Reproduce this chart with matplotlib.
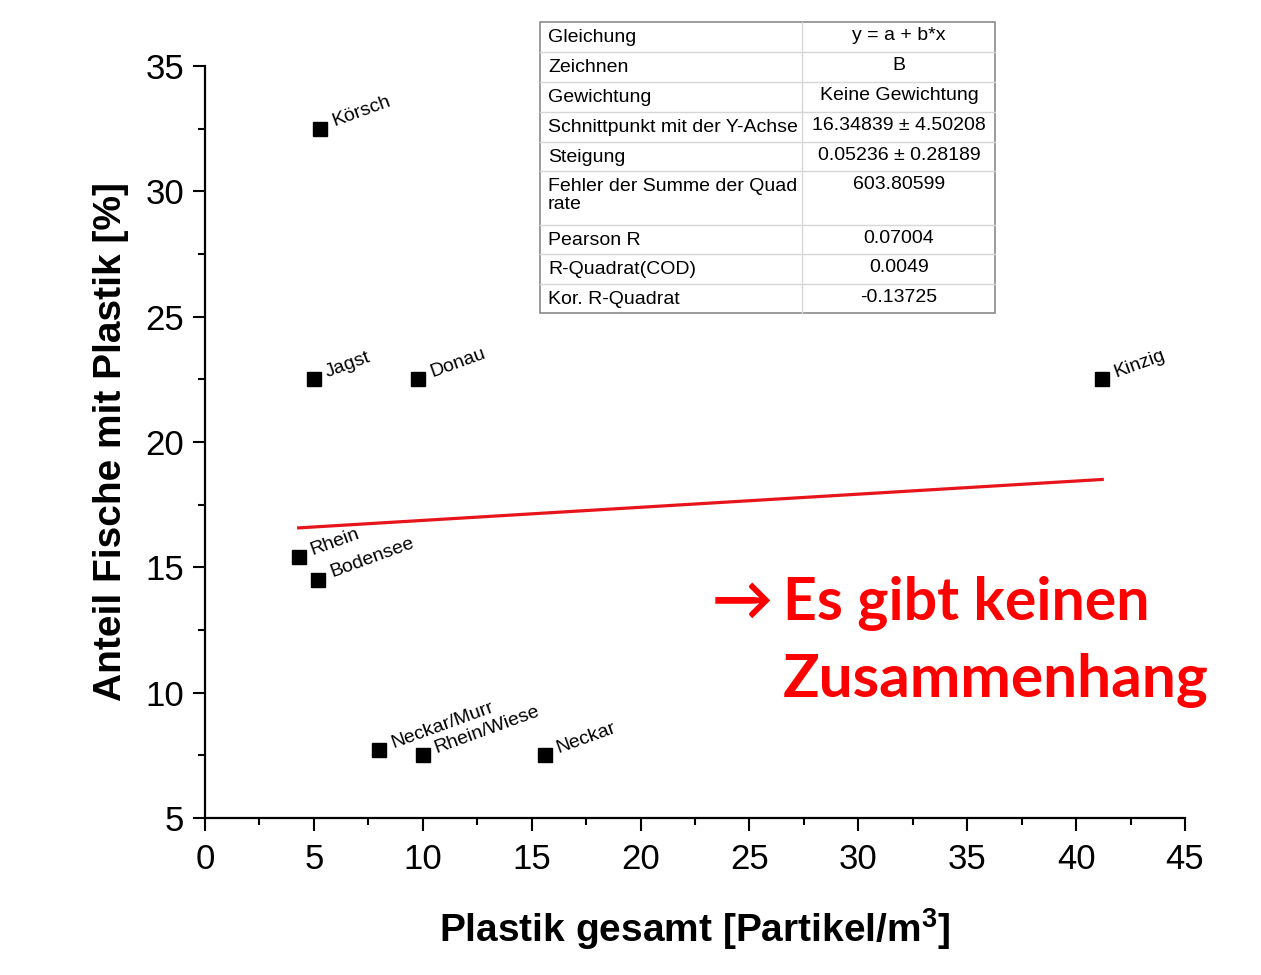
import numpy as np
import matplotlib.pyplot as plt
from matplotlib import font_manager
from matplotlib.ticker import MultipleLocator

# Fluesse: Plastik gesamt vs. Anteil Fische mit Plastik
orte = ["Körsch", "Jagst", "Donau", "Kinzig", "Rhein", "Bodensee",
        "Neckar/Murr", "Rhein/Wiese", "Neckar"]
plastik = [5.3, 5.0, 9.8, 41.2, 4.3, 5.2, 8.0, 10.0, 15.6]
anteil = [32.5, 22.5, 22.5, 22.5, 15.4, 14.5, 7.7, 7.5, 7.5]

# lineare Regression (Ergebnis aus der Tabelle)
a_fit = 16.34839
b_fit = 0.05236

tab_links = ["Gleichung", "Zeichnen", "Gewichtung", "Schnittpunkt mit der Y-Achse",
             "Steigung", "Fehler der Summe der Quad\nrate", "Pearson R",
             "R-Quadrat(COD)", "Kor. R-Quadrat"]
tab_rechts = ["y = a + b*x", "B", "Keine Gewichtung", "16.34839 ± 4.50208",
              "0.05236 ± 0.28189", "603.80599", "0.07004", "0.0049", "-0.13725"]

namen = {f.name for f in font_manager.fontManager.ttflist}
schmal = "Liberation Sans Narrow" if "Liberation Sans Narrow" in namen else "Liberation Sans"

plt.rcParams['font.family'] = ['Liberation Sans', 'DejaVu Sans']

W, H = 1261, 975
fig = plt.figure(figsize=(W / 100, H / 100), dpi=100)
ax = fig.add_axes([205 / W, 1 - 818 / H, 980 / W, 752 / H])

ax.plot(plastik, anteil, 's', color='black', ms=10, zorder=3)
xs = np.array([min(plastik), max(plastik)])
ax.plot(xs, a_fit + b_fit * xs, color='#e8141b', lw=2.3, zorder=2)

for name, x, y in zip(orte, plastik, anteil):
    ax.annotate(name, (x, y), xytext=(11, -1), textcoords='offset points',
                fontsize=14, rotation=20, rotation_mode='anchor',
                ha='left', va='bottom')

ax.set_xlim(0, 45)
ax.set_ylim(5, 35)
ax.xaxis.set_major_locator(MultipleLocator(5))
ax.xaxis.set_minor_locator(MultipleLocator(2.5))
ax.yaxis.set_major_locator(MultipleLocator(5))
ax.yaxis.set_minor_locator(MultipleLocator(2.5))
for s in ['top', 'right']:
    ax.spines[s].set_visible(False)
for s in ['left', 'bottom']:
    ax.spines[s].set_linewidth(1.6)
ax.tick_params(which='major', length=9, width=1.5, direction='out')
ax.tick_params(which='minor', length=5, width=1.5, direction='out')
ax.tick_params(axis='y', labelsize=25, pad=6)
ax.tick_params(axis='x', labelsize=25, pad=9)
for lab in ax.get_xticklabels():
    lab.set_family(schmal)

ax.set_xlabel("Plastik gesamt [Partikel/m$^\\mathregular{3}$]", fontsize=28,
              fontweight='bold', family=schmal, labelpad=22)
ax.set_ylabel("Anteil Fische mit Plastik [%]", fontsize=28,
              fontweight='bold', labelpad=12)

# Ergebnistabelle der Anpassung
tx = fig.add_axes([0, 0, 1, 1], facecolor='none')
tx.set_xlim(0, W)
tx.set_ylim(H, 0)
tx.axis('off')
zeilen = [22, 52, 82, 112, 142, 171, 225, 254, 284, 313]
x0, xm, x1 = 540, 802, 995
tx.add_patch(plt.Rectangle((x0, zeilen[0]), x1 - x0, zeilen[-1] - zeilen[0],
                           facecolor='white', edgecolor='#8a8a8a', lw=1.2))
for yy in zeilen[1:-1]:
    tx.plot([x0, x1], [yy, yy], color='#d6d6d6', lw=1)
tx.plot([xm, xm], [zeilen[0], zeilen[-1]], color='#d6d6d6', lw=1)
for i, (l, r) in enumerate(zip(tab_links, tab_rechts)):
    yt = zeilen[i] + 7
    tx.text(548, yt, l, fontsize=14, ha='left', va='top', linespacing=1.1)
    tx.text(899, yt - 2, r, fontsize=14, ha='center', va='top')

# Fazit
rot = '#ff0000'
tx.text(712, 620, "→", fontsize=44, color=rot, fontweight='bold',
        family=['Lato', 'DejaVu Sans'], ha='left', va='baseline')
tx.text(783, 620, "Es gibt keinen", fontsize=42.5, color=rot, fontweight='bold',
        family=['Lato', 'DejaVu Sans'], ha='left', va='baseline')
tx.text(783, 697, "Zusammenhang", fontsize=43.5, color=rot, fontweight='bold',
        family=['Lato', 'DejaVu Sans'], ha='left', va='baseline')

fig.savefig("out.png", dpi=100)
